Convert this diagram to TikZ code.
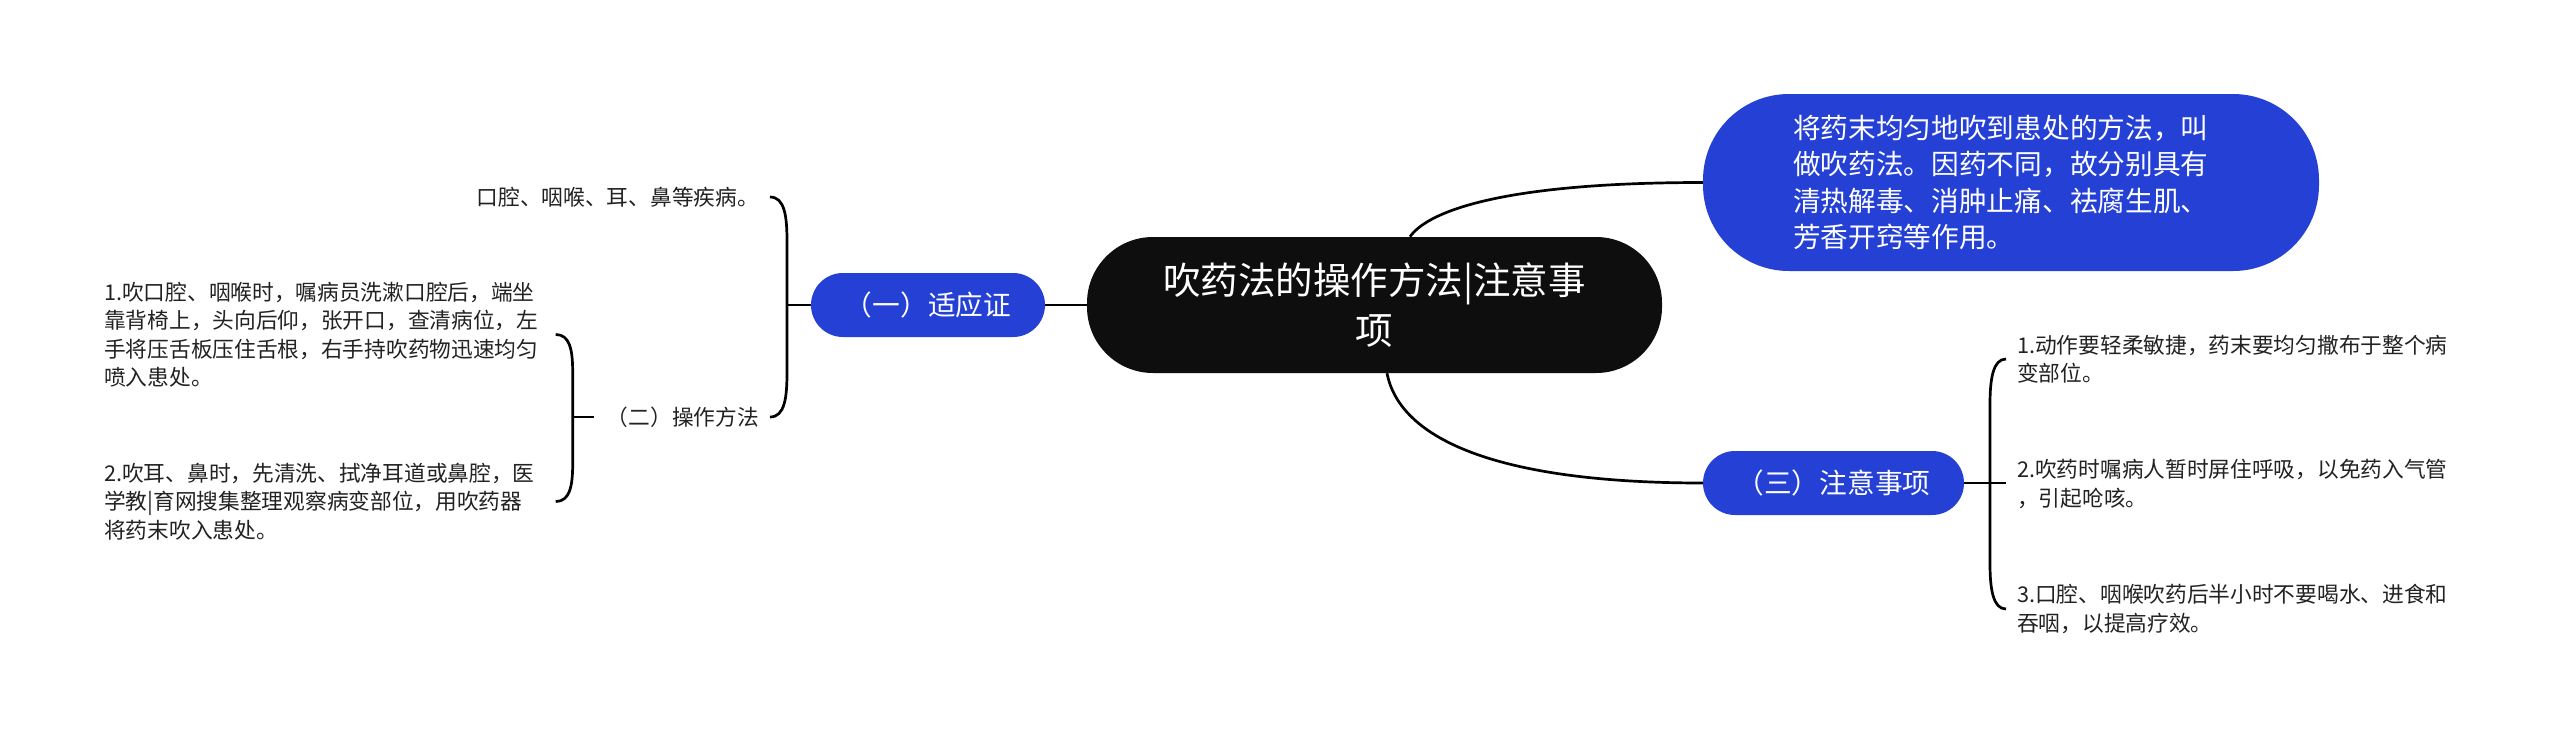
\documentclass[tikz,border=0pt]{standalone}
\usepackage{fontspec}
\setmainfont{Noto Sans CJK SC}
\usetikzlibrary{calc}
\definecolor{myblue}{RGB}{37,64,212}
\definecolor{rootblack}{RGB}{14,14,14}
\definecolor{leaftext}{RGB}{34,34,34}
\newcommand{\leaffont}{\fontsize{21.7pt}{28.5pt}\selectfont}
\newcommand{\bluefont}{\fontsize{27.7pt}{36.5pt}\selectfont}
\newcommand{\rootfont}{\fontsize{37.5pt}{50pt}\selectfont}
\begin{document}
\begin{tikzpicture}[x=1pt,y=-1pt,
  conn/.style={draw=black, line width=2.7pt},
  leaf/.style={font=\leaffont, align=left, inner sep=0pt, text=leaftext},
  topic/.style={fill=myblue, text=white, font=\bluefont, inner sep=0pt, minimum height=64pt, rounded corners=32pt},
  root/.style={fill=rootblack, text=white, font=\rootfont, align=center, inner sep=0pt, minimum width=575pt, minimum height=136pt, rounded corners=66pt},
]
\fill[white] (0,0) rectangle (2560,742);
\useasboundingbox (0,0) rectangle (2560,742);

% nodes
\node[root] (c) at (1374.5,305) {吹药法的操作方法|注意事\\项};
\node[topic, minimum width=616pt, minimum height=177pt, rounded corners=86pt, text width=436pt, align=left] (d) at (2011,182.5) {将药末均匀地吹到患处的方法，叫\\做吹药法。因药不同，故分别具有\\清热解毒、消肿止痛、祛腐生肌、\\芳香开窍等作用。};
\node[topic, minimum width=234pt] (t1) at (928,305) {（一）适应证};
\node[topic, minimum width=261pt] (t3) at (1833.5,483) {（三）注意事项};

\node[leaf, anchor=east] (a1) at (759,197) {口腔、咽喉、耳、鼻等疾病。};
\node[leaf, anchor=east] (t2) at (759,417) {（二）操作方法};

\node[leaf, anchor=west] (b1) at (104,334.5) {1.吹口腔、咽喉时，嘱病员洗漱口腔后，端坐\\靠背椅上，头向后仰，张开口，查清病位，左\\手将压舌板压住舌根，右手持吹药物迅速均匀\\喷入患处。};
\node[leaf, anchor=west] (b2) at (104,501.5) {2.吹耳、鼻时，先清洗、拭净耳道或鼻腔，医\\学教|育网搜集整理观察病变部位，用吹药器\\将药末吹入患处。};

\node[leaf, anchor=west] (r1) at (2017,359) {1.动作要轻柔敏捷，药末要均匀撒布于整个病\\变部位。};
\node[leaf, anchor=west] (r2) at (2017,484) {2.吹药时嘱病人暂时屏住呼吸，以免药入气管\\，引起呛咳。};
\node[leaf, anchor=west] (r3) at (2017,609) {3.口腔、咽喉吹药后半小时不要喝水、进食和\\吞咽，以提高疗效。};

% root connectors
\draw[conn] (c.west) -- (t1.east);
\draw[conn] ($(c.north)+(35.5,0)$) .. controls ($(c.north)+(50.5,-22)$) and ($(d.west)+(-213,0)$) .. (d.west);
\draw[conn] ($(c.south)+(12.5,0)$) .. controls ($(c.south)+(25.5,67)$) and ($(t3.west)+(-203,0)$) .. (t3.west);

% bracket (一)
\coordinate (v1) at ($(a1.east)+(28,0)$);
\draw[conn] (t1.west) -- (t1.west -| v1);
\draw[conn] ($(a1.east)+(11,0)$) .. controls ($(a1.east)+(26,0)$) and ($(a1.east)+(28,20)$) .. ($(a1.east)+(28,45)$)
  -- ($(t2.east)+(28,-45)$) .. controls ($(t2.east)+(28,-20)$) and ($(t2.east)+(26,0)$) .. ($(t2.east)+(11,0)$);

% bracket (二)
\coordinate (v2) at ($(t2.west)+(-34,0)$);
\draw[conn] ($(t2.west)+(-13,0)$) -- (v2);
\draw[conn] ($(b1.east -| v2)+(-17,0)$) .. controls ($(b1.east -| v2)+(-3,0)$) and ($(b1.east -| v2)+(0,15)$) .. ($(b1.east -| v2)+(0,38)$)
  -- ($(b2.east -| v2)+(0,-38)$) .. controls ($(b2.east -| v2)+(0,-15)$) and ($(b2.east -| v2)+(-3,0)$) .. ($(b2.east -| v2)+(-17,0)$);

% bracket (三)
\coordinate (v3) at ($(r1.west)+(-27,0)$);
\draw[conn] (t3.east) -- ($(t3.east -| r1.west)+(-11,0)$);
\draw[conn] ($(r1.west)+(-11,0)$) .. controls ($(r1.west)+(-24,0)$) and ($(r1.west)+(-27,20)$) .. ($(r1.west)+(-27,45)$)
  -- ($(r3.west)+(-27,-45)$) .. controls ($(r3.west)+(-27,-20)$) and ($(r3.west)+(-24,0)$) .. ($(r3.west)+(-11,0)$);
\end{tikzpicture}
\end{document}
